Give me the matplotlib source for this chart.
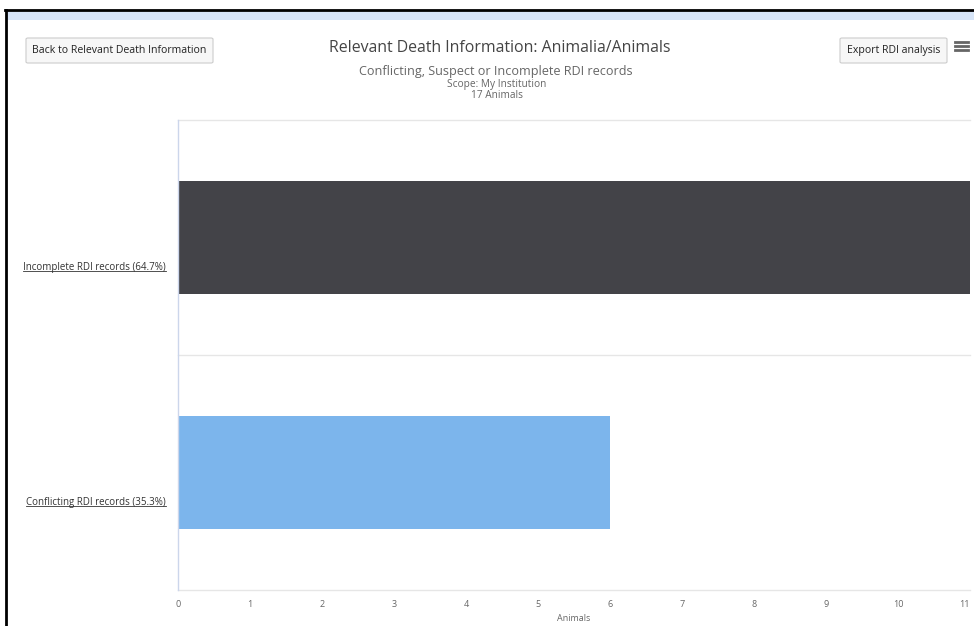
import matplotlib.pyplot as plt
from matplotlib.patches import FancyBboxPatch, Rectangle
from matplotlib.lines import Line2D
import matplotlib.transforms as mtransforms

# data
categories = ['Conflicting RDI records (35.3%)', 'Incomplete RDI records (64.7%)']
animals = [6, 11]
bar_colors = ['#7cb5ec', '#434348']
x_ticks = list(range(0, 12))

plt.rcParams['font.family'] = ['Open Sans', 'DejaVu Sans']

W, H = 974, 626
fig = plt.figure(figsize=(W / 100, H / 100), dpi=100)

def fx(px):
    return px / W

def fy(py):
    return 1 - py / H

# plot area
ax = fig.add_axes([fx(178), fy(590), fx(970) - fx(178), fy(120) - fy(590)])
ypos = list(range(len(categories)))
ax.barh(ypos, animals, height=0.485, color=bar_colors, zorder=2)
ax.set_xlim(0, 11)
ax.set_ylim(-0.5, 1.5)

# category grid lines
for y in [-0.5, 0.5, 1.5]:
    ax.axhline(y, color='#e6e6e6', lw=1, zorder=1, clip_on=False)

for s in ['top', 'right', 'bottom']:
    ax.spines[s].set_visible(False)
ax.spines['left'].set_color('#ccd6eb')
ax.spines['left'].set_linewidth(1)

ax.set_xticks(x_ticks)
ax.set_xticklabels([str(t) for t in x_ticks], fontsize=6.5, color='#666666')
ax.tick_params(axis='x', length=0, pad=7)
ax.get_xticklabels()[-1].set_horizontalalignment('right')
ax.set_xlabel('Animals', fontsize=6.5, color='#666666', labelpad=4)

ax.set_yticks([])
# category labels, drawn lower than the bar centre like in the screenshot
cat_labels = []
for i, cat in enumerate(categories):
    t = ax.text(0, i, cat, transform=mtransforms.blended_transform_factory(ax.transAxes, ax.transData)
                + mtransforms.ScaledTranslation(-0.12, -0.30, fig.dpi_scale_trans),
                ha='right', va='center', fontsize=7, color='#333333')
    cat_labels.append(t)

# titles
fig.text(fx(500), fy(48), 'Relevant Death Information: Animalia/Animals', ha='center', va='center',
         fontsize=11.4, color='#444444')
fig.text(fx(496), fy(71), 'Conflicting, Suspect or Incomplete RDI records', ha='center', va='center',
         fontsize=9.1, color='#666666')
fig.text(fx(497), fy(84), 'Scope: My Institution', ha='center', va='center', fontsize=7.3, color='#666666')
fig.text(fx(497), fy(96), '17 Animals', ha='center', va='center', fontsize=7.3, color='#666666')

# buttons
def button(x0, x1, y0, y1, label):
    fig.patches.append(FancyBboxPatch((fx(x0), fy(y1)), fx(x1) - fx(x0), fy(y0) - fy(y1),
                                      boxstyle='round,pad=0,rounding_size=0.002',
                                      transform=fig.transFigure, facecolor='#f7f7f7',
                                      edgecolor='#cccccc', lw=0.8))
    fig.text(fx((x0 + x1) / 2), fy((y0 + y1) / 2), label, ha='center', va='center',
             fontsize=7.6, color='#222222')

button(26, 213, 38, 63, 'Back to Relevant Death Information')
button(840, 947, 38, 63, 'Export RDI analysis')
for yy in [42, 46, 50]:
    fig.lines.append(Line2D([fx(955), fx(968)], [fy(yy), fy(yy)], transform=fig.transFigure,
                            color='#666666', lw=2))

# page border of the screenshot
fig.patches.append(Rectangle((fx(7), fy(20)), 1, fy(11) - fy(20), transform=fig.transFigure,
                             facecolor='#d6e4f7', edgecolor='none'))
fig.lines.append(Line2D([fx(5), 1], [fy(10), fy(10)], transform=fig.transFigure, color='black', lw=2))
fig.lines.append(Line2D([fx(6), fx(6)], [fy(10), 0], transform=fig.transFigure, color='black', lw=2))

# underline the category labels
fig.canvas.draw()
renderer = fig.canvas.get_renderer()
inv = fig.transFigure.inverted()
for t in cat_labels:
    bb = t.get_window_extent(renderer)
    (x0, y0), (x1, y1) = inv.transform([[bb.x0, bb.y0], [bb.x1, bb.y1]])
    fig.lines.append(Line2D([x0, x1], [y0 + 0.003, y0 + 0.003], transform=fig.transFigure,
                            color='#333333', lw=0.6))

fig.savefig('out.png', dpi=100)
